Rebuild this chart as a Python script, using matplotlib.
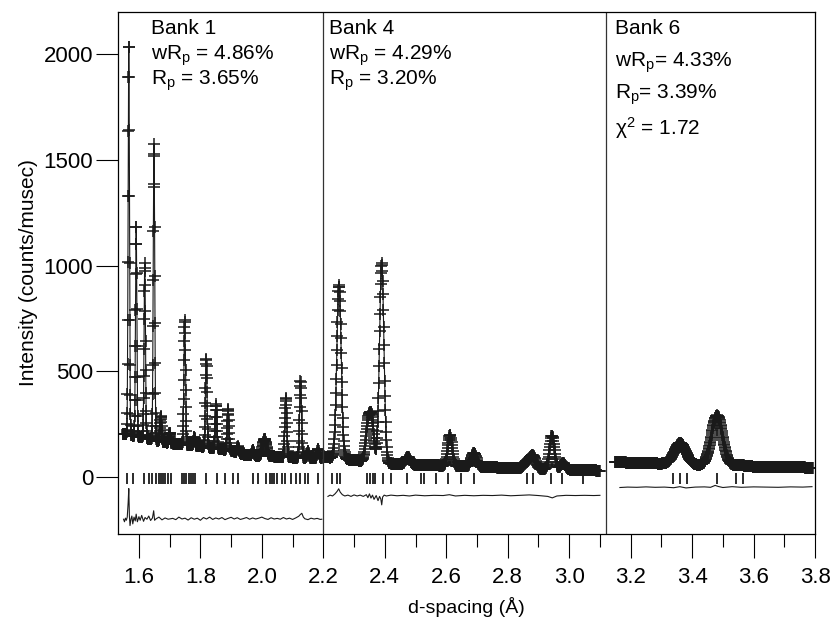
import numpy as np
import matplotlib
matplotlib.use("Agg")
import matplotlib.pyplot as plt
from matplotlib.ticker import MultipleLocator, FormatStrFormatter

plt.rcParams['font.family'] = ['Liberation Sans', 'DejaVu Sans']
plt.rcParams['mathtext.fontset'] = 'custom'
plt.rcParams['mathtext.rm'] = 'Liberation Sans'
plt.rcParams['mathtext.it'] = 'Liberation Sans:italic'

# --- data ----------------------------------------------------------------
# bank ranges (d-spacing, Angstrom) and background knots
bank1_range = (1.548, 2.195)
bank1_bg_d = [1.548, 1.60, 1.70, 1.80, 1.90, 1.95, 2.00, 2.10, 2.195]
bank1_bg = [205, 190, 160, 145, 125, 102, 100, 92, 90]
bank1_peak_d = [1.567, 1.591, 1.619, 1.649, 1.671, 1.700, 1.749, 1.780, 1.819, 1.851,
                1.890, 1.922, 1.971, 2.009, 2.078, 2.126, 2.150, 2.183]
bank1_peak_h = [1855, 1000, 830, 1400, 120, 50, 590, 40, 420, 210,
                195, 30, 25, 80, 280, 365, 30, 40]
bank1_peak_w = [0.0022, 0.0022, 0.0023, 0.0024, 0.0025, 0.0025, 0.0026, 0.0026, 0.0027, 0.0027,
                0.0028, 0.0028, 0.0029, 0.0060, 0.0030, 0.0031, 0.0031, 0.0032]

bank4_range = (2.200, 3.100)
bank4_bg_d = [2.20, 2.30, 2.40, 2.50, 2.70, 2.90, 3.10]
bank4_bg = [95, 80, 65, 58, 48, 38, 30]
bank4_peak_d = [2.251, 2.345, 2.358, 2.390, 2.475, 2.612, 2.690, 2.862, 2.882, 2.944, 2.980]
bank4_peak_h = [820, 170, 190, 945, 35, 145, 65, 30, 60, 160, 30]
bank4_peak_w = [0.0072, 0.0070, 0.0070, 0.0072, 0.0075, 0.0072, 0.0085, 0.0095, 0.0095, 0.0080, 0.0085]

bank6_range = (3.149, 3.793)
bank6_bg_d = [3.149, 3.30, 3.50, 3.793]
bank6_bg = [70, 63, 52, 44]
bank6_peak_d = [3.361, 3.481, 3.550]
bank6_peak_h = [100, 238, 8]
bank6_peak_w = [0.019, 0.018, 0.015]

# reflection tick positions
bank1_refl = [1.562, 1.580, 1.616, 1.632, 1.643, 1.656, 1.664, 1.671, 1.678, 1.686, 1.694, 1.703,
              1.740, 1.746, 1.754, 1.762, 1.768, 1.776, 1.783, 1.819, 1.854, 1.881, 1.905, 1.922,
              1.971, 1.987, 2.014, 2.025, 2.033, 2.041, 2.050, 2.065, 2.074, 2.096, 2.110, 2.123,
              2.139, 2.150, 2.183]
bank4_refl = [2.228, 2.244, 2.253, 2.343, 2.353, 2.362, 2.369, 2.394, 2.419, 2.473, 2.519, 2.528,
              2.568, 2.606, 2.649, 2.690, 2.862, 2.881, 2.940, 2.977, 3.046]
bank6_refl = [3.339, 3.359, 3.383, 3.480, 3.543, 3.565]

# difference curves (obs - calc, offset)
bank1_diff_d = [1.550, 1.553, 1.556, 1.559, 1.562, 1.565, 1.567, 1.569, 1.571, 1.574, 1.577, 1.580,
                1.584, 1.588, 1.591, 1.595, 1.600, 1.604, 1.609, 1.615, 1.620, 1.626, 1.632, 1.638,
                1.644, 1.648, 1.651, 1.656, 1.665, 1.675, 1.685, 1.695, 1.71, 1.72, 1.73, 1.74,
                1.75, 1.76, 1.77, 1.78, 1.79, 1.80, 1.81, 1.82, 1.83, 1.84, 1.85, 1.86, 1.87, 1.88,
                1.89, 1.90, 1.91, 1.92, 1.93, 1.94, 1.95, 1.96, 1.97, 1.98, 1.99, 2.00, 2.01, 2.02,
                2.03, 2.04, 2.05, 2.06, 2.07, 2.08, 2.09, 2.10, 2.11, 2.12, 2.125, 2.130, 2.135,
                2.14, 2.15, 2.16, 2.17, 2.18, 2.19, 2.195]
bank1_diff = [-200, -212, -195, -205, -190, -120, -55, -185, -230, -200, -185, -222, -190, -208, -176,
              -212, -188, -205, -182, -210, -192, -200, -185, -206, -194, -160, -205, -198, -190, -203,
              -194, -200, -196, -202, -190, -199, -195, -204, -193, -200, -195, -205, -192, -199, -190,
              -201, -194, -199, -192, -202, -196, -191, -199, -193, -201, -197, -192, -200, -194, -199,
              -195, -190, -197, -201, -193, -199, -196, -200, -192, -199, -195, -201, -194, -186, -178,
              -172, -190, -198, -202, -195, -199, -196, -201, -200]

bank4_diff_d = [2.215, 2.222, 2.230, 2.238, 2.245, 2.250, 2.255, 2.262, 2.270, 2.280, 2.290, 2.300,
                2.310, 2.320, 2.330, 2.340, 2.345, 2.350, 2.355, 2.360, 2.365, 2.372, 2.378, 2.383,
                2.387, 2.390, 2.393, 2.398, 2.405, 2.42, 2.44, 2.46, 2.48, 2.50, 2.53, 2.56, 2.59,
                2.61, 2.63, 2.66, 2.69, 2.72, 2.75, 2.78, 2.81, 2.84, 2.87, 2.90, 2.93, 2.945, 2.96,
                2.99, 3.02, 3.05, 3.08, 3.10]
bank4_diff = [-92, -86, -90, -80, -68, -56, -72, -84, -90, -86, -92, -85, -90, -86, -92, -84, -98, -80,
              -100, -86, -106, -88, -112, -92, -104, -132, -95, -86, -90, -86, -89, -87, -90, -86, -89,
              -87, -88, -84, -90, -87, -89, -87, -88, -86, -89, -87, -85, -88, -92, -99, -90, -87, -88,
              -87, -88, -87]

bank6_diff_d = [3.165, 3.19, 3.22, 3.25, 3.28, 3.31, 3.34, 3.36, 3.38, 3.41, 3.44, 3.46, 3.475, 3.485,
                3.50, 3.53, 3.56, 3.60, 3.64, 3.68, 3.72, 3.76, 3.79]
bank6_diff = [-50, -48, -49, -47, -49, -48, -51, -46, -52, -48, -47, -49, -40, -45, -50, -46, -49, -47,
              -48, -49, -47, -48, -46]

bank_labels = [
    (1.640, ["Bank 1", r"wR$_\mathrm{p}$ = 4.86%", r"R$_\mathrm{p}$ = 3.65%"], 25),
    (2.218, ["Bank 4", r"wR$_\mathrm{p}$ = 4.29%", r"R$_\mathrm{p}$ = 3.20%"], 25),
    (3.149, ["Bank 6", r"wR$_\mathrm{p}$= 4.33%", r"R$_\mathrm{p}$= 3.39%", r"χ$^\mathrm{2}$ = 1.72"], 32),
]
dividers = [2.2, 3.12]


def profile(drange, step, bg_d, bg, pd, ph, pw):
    # TOF-like grid: constant delta-d / d
    n = int(np.log(drange[1] / drange[0]) / np.log(1 + step))
    d = drange[0] * (1 + step) ** np.arange(n + 1)
    y = np.interp(d, bg_d, bg)
    for c, h, w in zip(pd, ph, pw):
        y = y + h * np.exp(-0.5 * ((d - c) / w) ** 2)
    return d, y


fig = plt.figure(figsize=(8.3, 6.17), dpi=100)
ax = fig.add_axes([0.1422, 0.1345, 0.8398, 0.8461])

banks = [
    (bank1_range, 0.00040, 9, bank1_bg_d, bank1_bg, bank1_peak_d, bank1_peak_h, bank1_peak_w,
     bank1_refl, bank1_diff_d, bank1_diff),
    (bank4_range, 0.00045, 8, bank4_bg_d, bank4_bg, bank4_peak_d, bank4_peak_h, bank4_peak_w,
     bank4_refl, bank4_diff_d, bank4_diff),
    (bank6_range, 0.00030, 9, bank6_bg_d, bank6_bg, bank6_peak_d, bank6_peak_h, bank6_peak_w,
     bank6_refl, bank6_diff_d, bank6_diff),
]

for rng, step, ms, bgd, bg, pd, ph, pw, refl, dd, dv in banks:
    d, y = profile(rng, step, bgd, bg, pd, ph, pw)
    ax.plot(d, y, ls='none', marker='+', ms=ms, mew=1.1, color='#1a1a1a')
    ax.plot(d, y, color='#1a1a1a', lw=0.8)
    ax.vlines(refl, -33, 20, color='#1a1a1a', lw=1.3)
    ax.plot(dd, dv, color='#1a1a1a', lw=0.8)

for x in dividers:
    ax.axvline(x, color='#333333', lw=0.9)

for x0, lines, spacing in bank_labels:
    for i, s in enumerate(lines):
        ax.annotate(s, xy=(x0, 1.0), xycoords=('data', 'axes fraction'),
                    xytext=(0, -5 - i * spacing * 0.72), textcoords='offset points',
                    ha='left', va='top', fontsize=15)

ax.set_xlim(1.532, 3.8)
ax.set_ylim(-270, 2200)
ax.xaxis.set_major_locator(MultipleLocator(0.2))
ax.xaxis.set_minor_locator(MultipleLocator(0.1))
ax.yaxis.set_major_locator(MultipleLocator(500))
ax.xaxis.set_major_formatter(FormatStrFormatter('%.1f'))
ax.tick_params(axis='x', which='major', direction='out', length=17, width=0.8, pad=7)
ax.tick_params(axis='x', which='minor', direction='out', length=9, width=0.8)
ax.tick_params(axis='y', which='major', direction='out', length=16, width=0.8, pad=2)
for lab in ax.get_xticklabels() + ax.get_yticklabels():
    lab.set_family(['Liberation Sans Narrow', 'Liberation Sans'])
    lab.set_fontsize(16)
for s in ax.spines.values():
    s.set_linewidth(0.9)

ax.set_xlabel("d-spacing (Å)", fontsize=14, labelpad=6)
ax.set_ylabel("Intensity (counts/musec)", fontsize=15, labelpad=4)

fig.savefig("out.png", dpi=100)
